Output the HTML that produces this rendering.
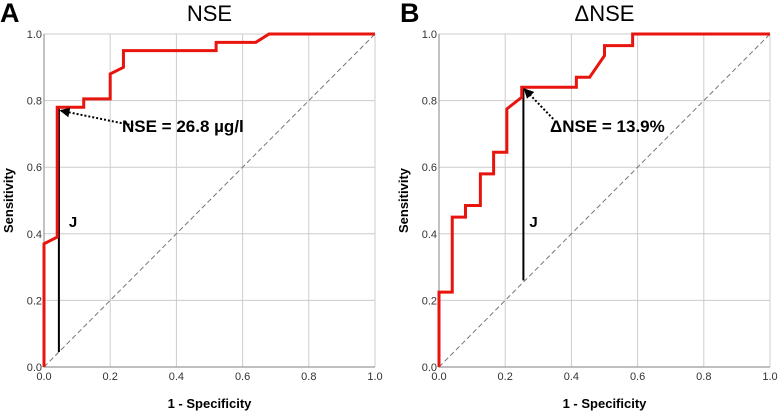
<!DOCTYPE html>
<html><head><meta charset="utf-8"><style>
body{margin:0;background:#fff;width:778px;height:411px;overflow:hidden}
svg{display:block;font-family:"Liberation Sans",sans-serif}
</style></head><body>
<svg id="s" width="778" height="411" viewBox="0 0 778 411">
<defs><marker id="ah" markerWidth="5" markerHeight="5" refX="4.5" refY="2.5" orient="auto"><path d="M0,0 L5,2.5 L0,5 Z" fill="#000"/></marker></defs>
</svg>
<script>
const ticks=[0,0.2,0.4,0.6,0.8,1.0];
const tickLabels=["0.0","0.2","0.4","0.6","0.8","1.0"];
const rocAx=[0,0,0.04,0.04,0.12,0.12,0.2,0.2,0.24,0.24,0.52,0.52,0.64,0.68,1];
const rocAy=[0,0.37,0.39,0.78,0.78,0.805,0.805,0.88,0.90,0.95,0.95,0.975,0.975,1,1];
const rocBx=[0,0,0.04,0.04,0.08,0.08,0.125,0.125,0.165,0.165,0.205,0.205,0.25,0.25,0.415,0.415,0.455,0.5,0.5,0.585,0.585,1];
const rocBy=[0,0.225,0.225,0.45,0.45,0.485,0.485,0.58,0.58,0.645,0.645,0.775,0.81,0.84,0.84,0.87,0.87,0.935,0.965,0.965,1,1];
const jA=[0.045,0.045,0.78], jB=[0.255,0.26,0.84];
const NS="http://www.w3.org/2000/svg", svg=document.getElementById('s');
function el(t,a,p){const e=document.createElementNS(NS,t);for(const k in a)e.setAttribute(k,a[k]);(p||svg).appendChild(e);return e;}
function panel(id,x0,x1,xs,ys,j,letter,title,label,lx,ly,arrow){
  const y0=367,y1=34;
  const X=v=>x0+v*(x1-x0), Y=v=>y0-v*(y0-y1);
  const g=el('g',{});
  
  
  ticks.forEach((t,i)=>{
    const gx=el('line',{x1:X(t),x2:X(t),y1:y1,y2:y0,stroke:'#ccc','stroke-width':1},g);
    
    
    const gy=el('line',{x1:x0,x2:x1,y1:Y(t),y2:Y(t),stroke:'#ccc','stroke-width':1},g);
    
    
    const tx=el('text',{x:X(t),y:y0+13,'font-size':11,'text-anchor':'middle',fill:'#333'},g);tx.textContent=tickLabels[i];
    
    
    const ty=el('text',{x:x0-2,y:Y(t)+4,'font-size':11,'text-anchor':'end',fill:'#333'},g);ty.textContent=tickLabels[i];
    
    
  });
  const ax=el('path',{d:`M${x0},${y1}V${y0}H${x1}`,stroke:'#999',fill:'none','stroke-width':1.2},g);
  
  
  const d=el('line',{x1:X(0),y1:Y(0),x2:X(1),y2:Y(1),stroke:'#777','stroke-width':1,'stroke-dasharray':'5,3'},g);
  
  
  const jl=el('line',{x1:X(j[0]),y1:Y(j[1]),x2:X(j[0]),y2:Y(j[2]),stroke:'#000','stroke-width':2},g);
  
  
  const pl=el('polyline',{points:xs.map((v,i)=>X(v)+','+Y(ys[i])).join(' '),fill:'none',stroke:'#e8140e','stroke-width':3,'stroke-linejoin':'miter'},g);
  
  
  const ar=el('line',{x1:X(arrow[0]),y1:Y(arrow[1]),x2:X(arrow[2]),y2:Y(arrow[3]),stroke:'#000','stroke-width':2,'stroke-dasharray':'2,2','marker-end':'url(#ah)'},g);
  
  
  const lb=el('text',{x:lx,y:ly,'font-size':17,'font-weight':'bold'},g);lb.textContent=label;
  
  
  const jt=el('text',{x:X(j[0])+(id==='panel-a'?10:6),y:Y(0.42),'font-size':15,'font-weight':'bold'},g);jt.textContent='J';
  
  
  const le=el('text',{x:x0-44+(id==='panel-b'?5:0),y:22,'font-size':27,'font-weight':'bold'},g);le.textContent=letter;
  
  
  const ti=el('text',{x:(x0+x1)/2,y:21,'font-size':22,'text-anchor':'middle'},g);ti.textContent=title;
  
  
  const xt=el('text',{x:(x0+x1)/2,y:408,'font-size':13,'font-weight':'bold','text-anchor':'middle'},g);xt.textContent='1 - Specificity';
  
  
  const yt=el('text',{x:0,y:0,'font-size':13,'font-weight':'bold','text-anchor':'middle',transform:`translate(${x0-31},${(y0+y1)/2}) rotate(-90)`},g);yt.textContent='Sensitivity';
  
  
}
panel('panel-a',44,375,rocAx,rocAy,jA,'A','NSE','NSE = 26.8 µg/l',122,132,[0.27,0.725,0.05,0.77]);
panel('panel-b',439,770,rocBx,rocBy,jB,'B','ΔNSE','ΔNSE = 13.9%',550,132,[0.345,0.745,0.258,0.835]);
</script>
</body></html>
